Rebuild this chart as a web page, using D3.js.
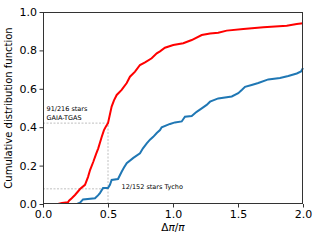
<!DOCTYPE html>
<html><head><meta charset="utf-8">
<script src="https://cdn.jsdelivr.net/npm/d3@7"></script>
<style>body{margin:0;background:#fff}svg{display:block}text{font-family:"DejaVu Sans",sans-serif}</style>
</head><body><svg id="c" width="320" height="240"></svg>
<script>
const redX = [0,0.115,0.146,0.192,0.2,0.221,0.246,0.269,0.285,0.323,0.346,0.362,0.387,0.408,0.425,0.452,0.469,0.485,0.5,0.528,0.546,0.567,0.605,0.644,0.669,0.708,0.746,0.785,0.836,0.875,0.9,0.938,1.002,1.079,1.144,1.221,1.285,1.348,1.413,1.541,1.695,1.875,1.952,2.0];
const redY = [0,0,0.005,0.009,0.017,0.03,0.047,0.065,0.078,0.10,0.14,0.177,0.22,0.26,0.29,0.35,0.385,0.405,0.421,0.507,0.54,0.568,0.594,0.63,0.663,0.689,0.724,0.738,0.759,0.785,0.795,0.814,0.828,0.837,0.854,0.88,0.888,0.892,0.903,0.911,0.92,0.928,0.9375,0.941];
const blueX = [0.262,0.285,0.308,0.4,0.423,0.438,0.462,0.5,0.515,0.528,0.577,0.605,0.623,0.644,0.695,0.746,0.769,0.798,0.823,0.848,0.875,0.9,0.913,0.977,1.015,1.067,1.092,1.144,1.182,1.221,1.259,1.285,1.348,1.452,1.502,1.531,1.554,1.605,1.656,1.733,1.823,1.887,1.952,1.985,2.0];
const blueY = [0,0.007,0.024,0.03,0.045,0.057,0.083,0.083,0.10,0.125,0.13,0.168,0.19,0.213,0.24,0.264,0.29,0.316,0.335,0.35,0.37,0.385,0.40,0.417,0.425,0.43,0.455,0.458,0.48,0.498,0.516,0.533,0.55,0.56,0.577,0.595,0.61,0.62,0.63,0.649,0.656,0.667,0.68,0.69,0.708];
const xTicks = [0.0,0.5,1.0,1.5,2.0];
const yTicks = [0.0,0.2,0.4,0.6,0.8,1.0];
const gaiaFrac = 91/216, tychoFrac = 12/152, cutX = 0.5;
const gaiaLabel = ["91/216 stars","GAIA-TGAS"], tychoLabel = "12/152 stars Tycho";
const yTitle = "Cumulative distribution function";

const L=43,R=303,T=12,B=204;
const svg=d3.select("#c");
const x=d3.scaleLinear().domain([0,2]).range([L,R]);
const y=d3.scaleLinear().domain([0,1]).range([B,T]);

svg.append("defs").append("clipPath").attr("id","cp").append("rect").attr("x",L).attr("y",T-2).attr("width",R-L+1).attr("height",B-T+2);

const g=svg.append("g").attr("stroke","#b0b0b0").attr("stroke-width",0.8).attr("stroke-dasharray","2,1.5").attr("fill","none");
g.append("line").attr("x1",x(0)).attr("x2",x(cutX)).attr("y1",y(gaiaFrac)).attr("y2",y(gaiaFrac));
g.append("line").attr("x1",x(cutX)).attr("x2",x(cutX)).attr("y1",y(0)).attr("y2",y(gaiaFrac));
g.append("line").attr("x1",x(0)).attr("x2",x(cutX)).attr("y1",y(tychoFrac)).attr("y2",y(tychoFrac));

const line=d3.line().x(d=>x(d[0])).y(d=>y(d[1])).curve(d3.curveLinear);
const cg=svg.append("g").attr("clip-path","url(#cp)");
cg.append("path").datum(blueX.map((v,i)=>[v,blueY[i]])).attr("d",line).attr("fill","none").attr("stroke","#1f77b4").attr("stroke-width",2);
cg.append("path").datum(redX.map((v,i)=>[v,redY[i]])).attr("d",line).attr("fill","none").attr("stroke","#ff0000").attr("stroke-width",2);

const xa=svg.append("g").attr("transform",`translate(0,${B})`).call(d3.axisBottom(x).tickValues(xTicks).tickFormat(d3.format(".1f")).tickSize(3.5).tickPadding(3));
const ya=svg.append("g").attr("transform",`translate(${L},0)`).call(d3.axisLeft(y).tickValues(yTicks).tickFormat(d3.format(".1f")).tickSize(3.5).tickPadding(2.5));
[xa,ya].forEach(a=>{a.select(".domain").remove();a.selectAll("line").attr("stroke","#333");a.selectAll("text").attr("font-size",11).attr("fill","#000").attr("font-family","DejaVu Sans");});
svg.append("rect").attr("x",L+0.5).attr("y",T+0.5).attr("width",R-L-1).attr("height",B-T-1).attr("fill","none").attr("stroke","#333").attr("stroke-width",1);

svg.append("text").attr("transform",`translate(12,${(T+B)/2}) rotate(-90)`).attr("text-anchor","middle").attr("font-size",10).text(yTitle);
const xl=svg.append("text").attr("x",(L+R)/2).attr("y",231).attr("text-anchor","middle").attr("font-size",10.5);
xl.append("tspan").text("Δ");
xl.append("tspan").attr("font-style","italic").text("π");
xl.append("tspan").text("/");
xl.append("tspan").attr("font-style","italic").text("π");

svg.append("text").attr("x",46.5).attr("y",110.5).attr("font-size",6.5).text(gaiaLabel[0]);
svg.append("text").attr("x",46.5).attr("y",119.5).attr("font-size",6.5).text(gaiaLabel[1]);
svg.append("text").attr("x",121.5).attr("y",189).attr("font-size",6.5).text(tychoLabel);
</script></body></html>
